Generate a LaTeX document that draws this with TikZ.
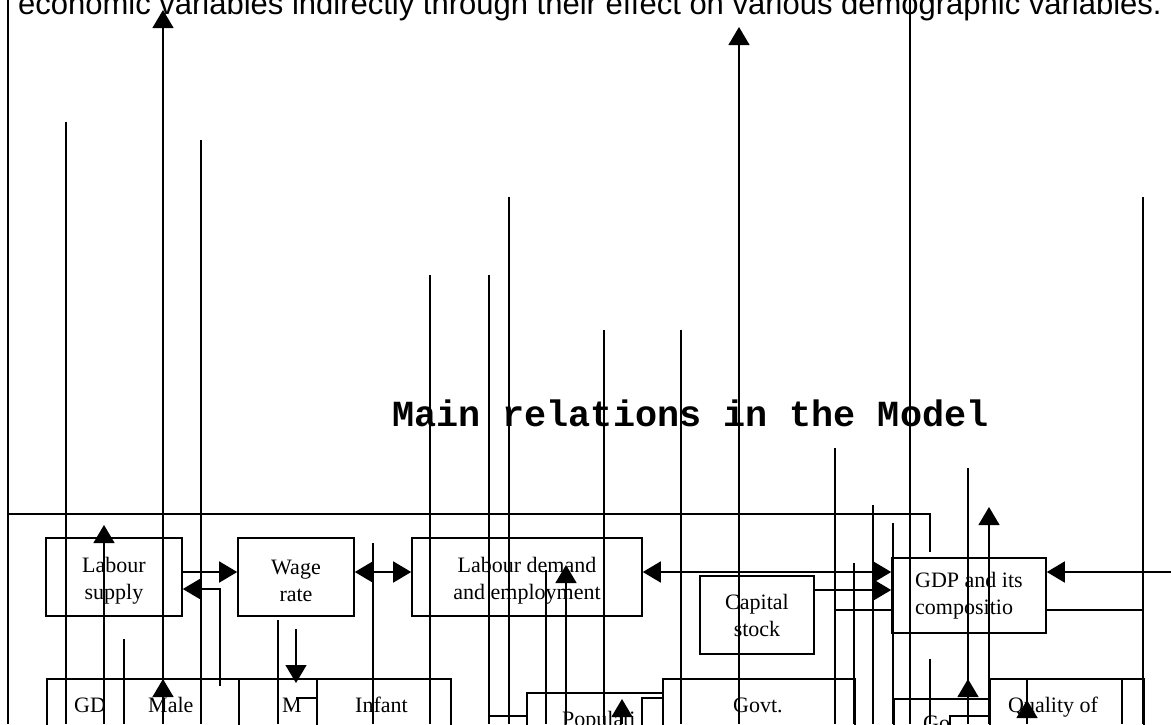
\documentclass[tikz,border=0pt]{standalone}
\usepackage{fontspec}
\setmainfont{Liberation Serif}
\newfontfamily\notefont{Liberation Sans}
\newfontfamily\titlefont{Liberation Mono}
\usetikzlibrary{arrows.meta, calc}
\newcommand{\drop}{\rule{0pt}{23pt}}

\begin{document}
\begin{tikzpicture}[
  x=1pt, y=-1pt,
  >={Triangle[length=18pt, width=21pt]},
  box/.style={draw, line width=1.6pt, minimum height=78pt, align=center, inner sep=0pt,
    font=\fontsize{22}{27}\selectfont},
  cell/.style={draw, line width=1.6pt, anchor=north west, minimum height=70pt, inner sep=0pt},
  lbl/.style={anchor=base west, inner sep=0pt, font=\fontsize{22}{27}\selectfont},
  rule/.style={line width=1.3pt},
  link/.style={line width=1.6pt}
]
\useasboundingbox (0,0) rectangle (1171,724);
\clip (0,0) rectangle (1171,724);

% text above the figure and title
\node[anchor=base west, inner sep=0pt, font=\notefont\fontsize{31}{36}\selectfont] (note) at (18,14)
  {economic variables indirectly through their effect on various demographic variables.};
\node[anchor=base west, inner sep=0pt, font=\titlefont\bfseries\fontsize{36.8}{40}\selectfont] (title) at (392,426)
  {Main relations in the Model};

% upper row
\node[box, minimum width=136pt] (lsup) at (114,577) {\drop Labour\\supply};
\node[box, minimum width=116pt] (wage) at (296,577) {\drop Wage\\rate};
\node[box, minimum width=230pt] (ldem) at (527,577) {\drop Labour demand\\and employment};
\node[box, minimum width=114pt] (capst) at (757,615) {Capital\\stock};
\node[box, minimum width=154pt, minimum height=75pt, align=left] (gdp) at (969,595.5) {GDP and its\\compositio};

% lower row (cut off by the page)
\node[cell, minimum width=192pt] (gdpb) at (46,678) {};
\node[cell, minimum width=78pt] (mort) at (238,678) {};
\node[cell, minimum width=134pt] (infant) at (316,678) {};
\node[cell, minimum width=136pt] (popn) at (526,692) {};
\node[cell, minimum width=192pt] (govt) at (662,678) {};
\node[cell, minimum width=96pt] (gov) at (893,698) {};
\node[cell, minimum width=154pt] (qual) at (989,678) {};
\node[lbl] (t1) at (74,712) {GD};
\node[lbl] (t2) at (148,712) {Male};
\node[lbl] (t3) at (282,712) {M};
\node[lbl] (t4) at (355,712) {Infant};
\node[lbl] (t5) at (562,726) {Populati};
\node[lbl] (t6) at (733,712) {Govt.};
\node[lbl] (t7) at (923,730) {Go};
\node[lbl] (t8) at (1008,712) {Quality of};

% frame
\draw[rule] (8,514) -| (930,552);

% stray vertical lines
\foreach \x/\yt in {8/0, 66/122, 201/140, 430/275, 489/275, 509/197, 604/330, 681/330,
    910/0, 1143/197, 835/448, 873/505, 893/523, 968/468, 854/563, 546/570, 373/543,
    124/639, 278/620, 930/659, 1027/678, 1122/678}
  \draw[rule] (\x,\yt) -- (\x,724);
\foreach \x/\tip in {163/10, 739/27, 989/507, 566/565, 104/525, 163/679, 622/699, 968/679, 1027/700}
  \draw[rule, ->] (\x,724) -- (\x,\tip);
\draw[rule, ->] (296,629) -- (296,683);

% small pieces
\draw[rule] (296,698) -- (316,698);
\draw[rule] (488,716) -- (526,716);
\draw[rule] (642,730) |- (662,698);
\draw[rule] (950,730) |- (989,716);

% connectors
\coordinate (tapA) at (220,686);
\draw[link, ->] (tapA) |- ($(lsup.east)+(0,12)$);
\draw[link, ->] ($(lsup.east)+(0,-5)$) coordinate (s1) -- (s1 -| wage.west);
\draw[link, <->] ($(wage.east)+(0,-5)$) coordinate (w1) -- (w1 -| ldem.west);
\draw[link, <->] ($(ldem.east)+(0,-5)$) coordinate (d1) -- (d1 -| gdp.west);
\draw[link, ->] ($(capst.east)+(0,-25)$) coordinate (c1) -- (c1 -| gdp.west);
\coordinate (k2) at (834,610);
\draw[link] (k2) -- (k2 -| gdp.west);
\coordinate (rin) at (1171,572);
\draw[link, ->] (rin) -- (rin -| gdp.east);
\coordinate (k3) at (1143,610);
\draw[link] (gdp.east |- k3) -- (k3);
\end{tikzpicture}
\end{document}
